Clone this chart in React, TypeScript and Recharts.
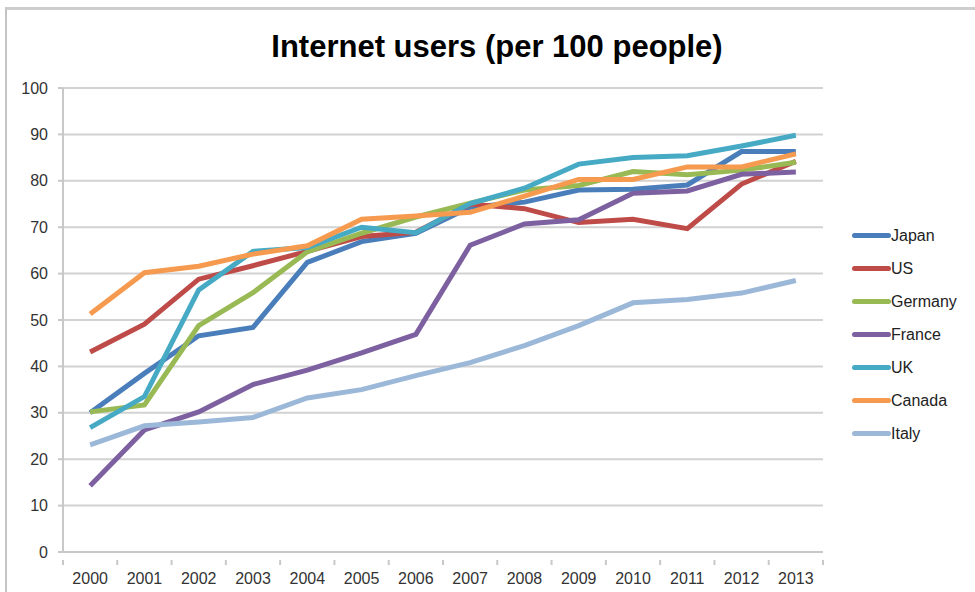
import { LineChart, Line, XAxis, YAxis, CartesianGrid } from "recharts";

// ─── data ────────────────────────────────────────────────────────────────────

const years = [
  "2000", "2001", "2002", "2003", "2004", "2005", "2006",
  "2007", "2008", "2009", "2010", "2011", "2012", "2013",
];

const japan = [30.0, 38.5, 46.6, 48.4, 62.4, 66.9, 68.7, 74.3, 75.4, 78.0, 78.2, 79.1, 86.3, 86.3];
const us = [43.1, 49.1, 58.8, 61.7, 64.8, 68.0, 68.9, 75.0, 74.0, 71.0, 71.7, 69.7, 79.3, 84.2];
const germany = [30.2, 31.7, 48.8, 55.9, 64.7, 68.7, 72.2, 75.2, 78.0, 79.0, 82.0, 81.3, 82.3, 84.0];
const france = [14.3, 26.3, 30.2, 36.1, 39.2, 42.9, 46.9, 66.1, 70.7, 71.6, 77.3, 77.8, 81.4, 81.9];
const uk = [26.8, 33.5, 56.5, 64.8, 65.6, 70.0, 68.8, 75.1, 78.4, 83.6, 85.0, 85.4, 87.5, 89.8];
const canada = [51.3, 60.2, 61.6, 64.2, 66.0, 71.7, 72.4, 73.2, 76.7, 80.3, 80.3, 83.0, 83.0, 85.8];
const italy = [23.1, 27.2, 28.0, 29.0, 33.2, 35.0, 38.0, 40.8, 44.5, 48.8, 53.7, 54.4, 55.8, 58.5];

const yTicks = [0, 10, 20, 30, 40, 50, 60, 70, 80, 90, 100];

const series = [
  { key: "Japan", values: japan, color: "#4a7ebb" },
  { key: "US", values: us, color: "#be4b48" },
  { key: "Germany", values: germany, color: "#98b954" },
  { key: "France", values: france, color: "#7d60a0" },
  { key: "UK", values: uk, color: "#46aac5" },
  { key: "Canada", values: canada, color: "#f59a4f" },
  { key: "Italy", values: italy, color: "#9cb8d9" },
];

const data = years.map((year, i) => {
  const row: Record<string, string | number> = { year };
  series.forEach((s) => (row[s.key] = s.values[i]));
  return row;
});

// ─── layout ──────────────────────────────────────────────────────────────────

const W = 975;
const H = 592;
const AXIS_W = 63;
const RIGHT = 152;
const PLOT_W = W - AXIS_W - RIGHT;
const HALF_BAND = PLOT_W / years.length / 2;
const FONT = "'Liberation Sans', Arial, Helvetica, sans-serif";

function YearTick(props: any) {
  const { x, y, payload, index } = props;
  const last = index === years.length - 1;
  return (
    <g>
      <line x1={x - HALF_BAND} x2={x - HALF_BAND} y1={y} y2={y + 5} stroke="#c8c8c8" strokeWidth={2} />
      {last && <line x1={x + HALF_BAND} x2={x + HALF_BAND} y1={y} y2={y + 5} stroke="#c8c8c8" strokeWidth={2} />}
      <text x={x} y={y + 24} textAnchor="middle" fontSize={16} fill="#333" fontFamily={FONT}>
        {payload.value}
      </text>
    </g>
  );
}

export default function App() {
  return (
    <div style={{ position: "absolute", left: 0, top: 0, width: W, height: H, background: "#fff", fontFamily: FONT }}>
      <div
        style={{
          position: "absolute",
          left: 5,
          top: 7,
          right: 0,
          bottom: 0,
          borderTop: "3px solid #cdcdcd",
          borderLeft: "2px solid #c4c4c4",
        }}
      />
      <div
        style={{
          position: "absolute",
          left: 0,
          width: 994,
          top: 29,
          textAlign: "center",
          fontSize: 31,
          fontWeight: "bold",
          color: "#000",
        }}
      >
        Internet users (per 100 people)
      </div>

      <div style={{ position: "absolute", left: 0, top: 0 }}>
        <LineChart width={W} height={H} data={data} margin={{ top: 88, right: RIGHT, bottom: 0, left: 0 }}>
          <CartesianGrid vertical={false} stroke="#d2d2d2" strokeWidth={2} />
          <XAxis
            dataKey="year"
            height={40}
            padding={{ left: HALF_BAND, right: HALF_BAND }}
            tickLine={false}
            axisLine={{ stroke: "#c8c8c8", strokeWidth: 2 }}
            tick={<YearTick />}
            interval={0}
          />
          <YAxis
            width={AXIS_W}
            domain={[0, 100]}
            ticks={yTicks}
            interval={0}
            tickSize={5}
            tickMargin={10}
            axisLine={{ stroke: "#c8c8c8", strokeWidth: 2 }}
            tickLine={{ stroke: "#c8c8c8", strokeWidth: 2 }}
            tick={{ fontSize: 16, fill: "#333", fontFamily: FONT }}
          />
          {series.map((s) => (
            <Line
              key={s.key}
              type="linear"
              dataKey={s.key}
              stroke={s.color}
              strokeWidth={5}
              dot={false}
              activeDot={false}
              isAnimationActive={false}
            />
          ))}
        </LineChart>
      </div>

      <div style={{ position: "absolute", left: 852, top: 219 }}>
        {series.map((s) => (
          <div key={s.key} style={{ display: "flex", alignItems: "center", height: 33 }}>
            <div style={{ width: 39, height: 5, borderRadius: 3, background: s.color }} />
            <span style={{ fontSize: 16, color: "#222", lineHeight: "16px" }}>{s.key}</span>
          </div>
        ))}
      </div>
    </div>
  );
}
